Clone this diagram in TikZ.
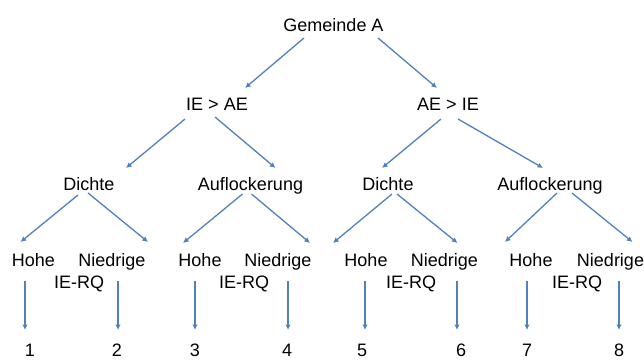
\documentclass[tikz,border=0pt]{standalone}
\usepackage{fontspec}
\setmainfont{Liberation Sans}
\usetikzlibrary{arrows.meta}
\definecolor{arrowblue}{RGB}{79,129,189}
\tikzset{
  lbl/.style={anchor=base, inner sep=0pt, font=\fontsize{18}{20}\selectfont},
  arr/.style={arrowblue, line width=1.3pt, -{Latex[length=5.5pt,width=5.5pt]}}
}
\begin{document}
\begin{tikzpicture}[x=1pt, y=-1pt]
    \useasboundingbox (0,0) rectangle (644,361);

    % Nodes
    \node[lbl] (gem) at (333.5,32) {Gemeinde A};
    \node[lbl] (ieae) at (217,110) {IE > AE};
    \node[lbl] (aeie) at (448,110) {AE > IE};

    \node[lbl] (dichteA) at (89,190) {Dichte};
    \node[lbl] (auflA) at (250.5,190) {Auflockerung};
    \node[lbl] (dichteB) at (388,190) {Dichte};
    \node[lbl] (auflB) at (550,190) {Auflockerung};

    \node[lbl] (hoheA) at (33.5,266) {Hohe};
    \node[lbl] (niedA) at (112,266) {Niedrige};
    \node[lbl] (hoheB) at (200,266) {Hohe};
    \node[lbl] (niedB) at (278,266) {Niedrige};
    \node[lbl] (hoheC) at (366,266) {Hohe};
    \node[lbl] (niedC) at (444.5,266) {Niedrige};
    \node[lbl] (hoheD) at (531,266) {Hohe};
    \node[lbl] (niedD) at (610.5,266) {Niedrige};

    \node[lbl] (rqA) at (79,288) {IE-RQ};
    \node[lbl] (rqB) at (244,288) {IE-RQ};
    \node[lbl] (rqC) at (411,288) {IE-RQ};
    \node[lbl] (rqD) at (577,288) {IE-RQ};

    \node[lbl] (n1) at (30,356) {1};
    \node[lbl] (n2) at (117,356) {2};
    \node[lbl] (n3) at (195,356) {3};
    \node[lbl] (n4) at (287,356) {4};
    \node[lbl] (n5) at (362,356) {5};
    \node[lbl] (n6) at (461,356) {6};
    \node[lbl] (n7) at (527,356) {7};
    \node[lbl] (n8) at (619,356) {8};

    % First split
    \draw[arr] ([xshift=-29.5pt,yshift=-6pt]gem.base) -- ([xshift=28pt,yshift=22pt]ieae.base);
    \draw[arr] ([xshift=44.5pt,yshift=-6pt]gem.base) -- ([xshift=-11pt,yshift=22pt]aeie.base);

    % Second split
    \draw[arr] ([xshift=-32pt,yshift=-9pt]ieae.base) -- ([xshift=37pt,yshift=22pt]dichteA.base);
    \draw[arr] ([xshift=-2pt,yshift=-7pt]ieae.base) -- ([xshift=25pt,yshift=22pt]auflA.base);
    \draw[arr] ([xshift=-7pt,yshift=-9pt]aeie.base) -- ([xshift=-6pt,yshift=22pt]dichteB.base);
    \draw[arr] ([xshift=10pt,yshift=-9pt]aeie.base) -- ([xshift=-7pt,yshift=22pt]auflB.base);

    % Third split
    \draw[arr] ([xshift=-11pt,yshift=-5pt]dichteA.base) -- ([xshift=-13pt,yshift=24pt]hoheA.base);
    \draw[arr] ([xshift=-1pt,yshift=-3pt]dichteA.base) -- ([xshift=36pt,yshift=24pt]niedA.base);
    \draw[arr] ([xshift=-8pt,yshift=-4pt]auflA.base) -- ([xshift=-17pt,yshift=23pt]hoheB.base);
    \draw[arr] ([xshift=1pt,yshift=-4pt]auflA.base) -- ([xshift=32pt,yshift=23pt]niedB.base);
    \draw[arr] ([xshift=4pt,yshift=-4pt]dichteB.base) -- ([xshift=-33pt,yshift=23pt]hoheC.base);
    \draw[arr] ([xshift=9pt,yshift=-4pt]dichteB.base) -- ([xshift=13pt,yshift=23pt]niedC.base);
    \draw[arr] ([xshift=7pt,yshift=-3pt]auflB.base) -- ([xshift=-26pt,yshift=24pt]hoheD.base);
    \draw[arr] ([xshift=22pt,yshift=-3pt]auflB.base) -- ([xshift=22pt,yshift=24pt]niedD.base);

    % Down to the cases
    \draw[arr] ([xshift=-8.5pt,yshift=-15pt]hoheA.base) -- ([xshift=-5pt,yshift=26pt]n1.base);
    \draw[arr] ([xshift=6pt,yshift=-15pt]niedA.base) -- ([xshift=1pt,yshift=26pt]n2.base);
    \draw[arr] ([xshift=-5pt,yshift=-15pt]hoheB.base) -- ([yshift=26pt]n3.base);
    \draw[arr] ([xshift=10pt,yshift=-15pt]niedB.base) -- ([xshift=1pt,yshift=26pt]n4.base);
    \draw[arr] ([xshift=-1pt,yshift=-15pt]hoheC.base) -- ([xshift=3pt,yshift=26pt]n5.base);
    \draw[arr] ([xshift=12.5pt,yshift=-15pt]niedC.base) -- ([xshift=-4pt,yshift=26pt]n6.base);
    \draw[arr] ([xshift=-4pt,yshift=-15pt]hoheD.base) -- ([yshift=26pt]n7.base);
    \draw[arr] ([xshift=8.5pt,yshift=-15pt]niedD.base) -- ([yshift=26pt]n8.base);

\end{tikzpicture}
\end{document}
